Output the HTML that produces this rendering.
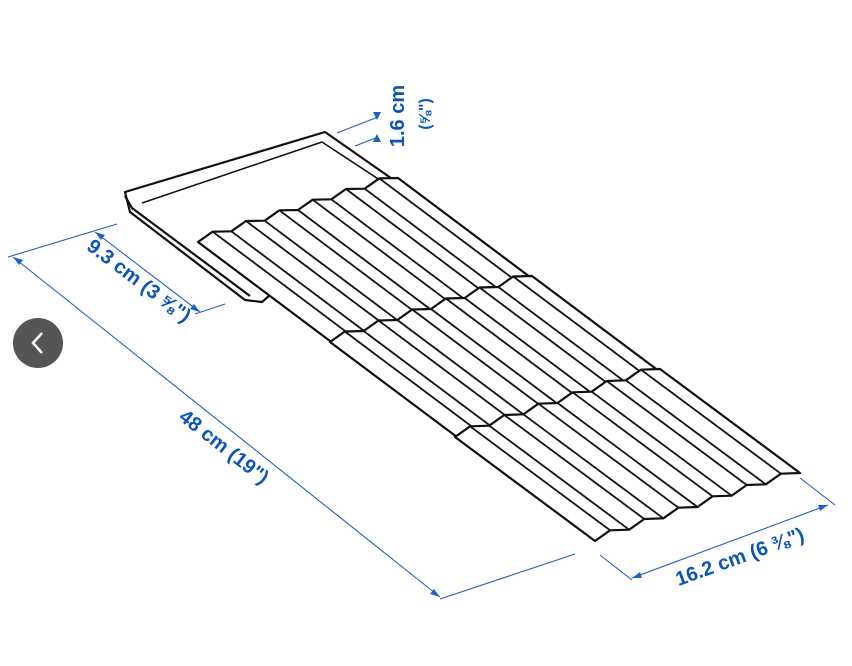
<!DOCTYPE html>
<html><head><meta charset="utf-8"><style>
html,body{margin:0;padding:0;background:#fff;width:852px;height:666px;overflow:hidden}
svg{display:block}
.d{font-family:"Liberation Sans",sans-serif;font-weight:bold;fill:#0b55b8;font-size:20px}
</style></head><body>
<svg id="s" width="852" height="666" viewBox="0 0 852 666">
<g stroke="#1f5fc4" stroke-width="1.1" fill="none">
<line x1="8" y1="257" x2="117" y2="224"/>
<line x1="13" y1="257" x2="440" y2="597"/>
<line x1="440" y1="599" x2="575" y2="554"/>
<line x1="95" y1="232" x2="200" y2="312"/>
<line x1="195" y1="314" x2="225" y2="304"/>
<line x1="600" y1="555" x2="632" y2="580"/>
<line x1="632" y1="578" x2="828" y2="505"/>
<line x1="800" y1="478" x2="835" y2="505"/>
<line x1="337" y1="133" x2="378" y2="117"/>
<line x1="355" y1="146" x2="378" y2="137"/>
</g>
<g fill="#1f5fc4">
<polygon points="13,257 23,260 19,265"/>
<polygon points="440,597 430,594 434,589"/>
<polygon points="95,232 105,235 101,240"/>
<polygon points="200,312 190,309 194,304"/>
<polygon points="632,578 640,572 642,578"/>
<polygon points="828,505 820,511 818,505"/>
<polygon points="377,120 373,112 381,112"/>
<polygon points="377,134 373,142 381,142"/>
</g>
<text class="d" transform="translate(404,116) rotate(-90)" text-anchor="middle">1.6 cm</text>
<text class="d" style="font-size:16px" transform="translate(430,114) rotate(-90)" text-anchor="middle">(⅝")</text>
<text class="d" transform="translate(135,286) rotate(37)" text-anchor="middle">9.3 cm (3 ⅝")</text>
<text class="d" transform="translate(220,452) rotate(38)" text-anchor="middle">48 cm (19")</text>
<text class="d" transform="translate(742,563) rotate(-20)" text-anchor="middle">16.2 cm (6 ⅜")</text>
<g id="art" stroke="#111" stroke-width="2.2" fill="#fff" stroke-linejoin="round">
<polygon points="125,192 325,132 398,183 262,302 245,300 130,212"/>
<polyline fill="none" points="125,196 132,208 250,296"/>
<polyline fill="none" stroke-width="1.6" points="142,203 322,142 392,188"/>
</g>
<circle cx="38" cy="343" r="25" fill="#555"/>
<polyline points="42,333 33,343 42,353" fill="none" stroke="#fff" stroke-width="2.5"/>
</svg>
<script>
var art=document.getElementById('art');
function panel(P,T,L){
 var n=12,top=[],bot=[];
 for(var i=0;i<=n;i++){var t=i/n,o=(i%2)?[-2,-5]:[0,0];
  top.push([P[0]+T[0]*t+o[0],P[1]+T[1]*t+o[1]]);
  bot.push([P[0]+T[0]*t+L[0]+o[0],P[1]+T[1]*t+L[1]+o[1]]);}
 var pts=top.concat(bot.slice().reverse()).map(function(p){return p.join(',')}).join(' ');
 var s='<polygon points="'+pts+'"/>';
 for(var i=1;i<n;i++)s+='<line stroke-width="1.8" x1="'+top[i][0]+'" y1="'+top[i][1]+'" x2="'+bot[i][0]+'" y2="'+bot[i][1]+'"/>';
 return s;}
art.insertAdjacentHTML('beforeend',
 panel([198,242],[200,-64],[160,120])+
 panel([330,342],[202,-66],[155,116])+
 panel([455,437],[205,-68],[140,104]));
</script>
</body></html>
